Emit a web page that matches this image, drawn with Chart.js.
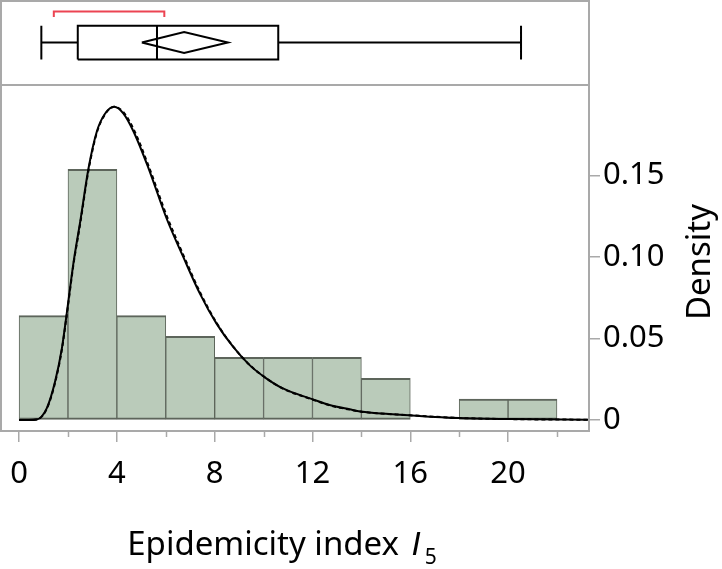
<!DOCTYPE html>
<html>
<head>
<meta charset="utf-8">
<script src="https://cdn.jsdelivr.net/npm/chart.js@4/dist/chart.umd.min.js"></script>
<style>
  html, body { margin: 0; padding: 0; background: #fff; }
</style>
</head>
<body>
<canvas id="chart" width="722" height="569"></canvas>
<script>
'use strict';

/* ── Data ── */
// histogram: bins of width 2, density values (blank bin 16-18)
const binStarts  = [0, 2, 4, 6, 8, 10, 12, 14, 16, 18, 20];
const binDensity = [0.0641, 0.1538, 0.0641, 0.0513, 0.0385, 0.0385, 0.0385, 0.0256, null, 0.0128, 0.0128];

// fitted density curves
const fitX      = [0, 0.4, 0.72, 1.13, 1.47, 1.75, 1.95, 2.23, 2.5, 2.84, 3.18, 3.52, 3.89, 4.27, 4.68, 5.28, 6.05, 6.71, 7.39, 8.07, 8.75, 9.43, 10.11, 10.79, 12.02, 12.7, 13.52, 14.06, 15.96, 18.0, 20.1, 23.3];
const fitSolid  = [0, 0, 0.0003, 0.0072, 0.0235, 0.044, 0.0655, 0.097, 0.1217, 0.1544, 0.177, 0.188, 0.1922, 0.188, 0.177, 0.155, 0.123, 0.1002, 0.0777, 0.0593, 0.045, 0.0337, 0.0256, 0.0194, 0.0127, 0.0092, 0.0066, 0.0051, 0.003, 0.0012, 0.0006, 0.0002];
const fitDashed = [0, 0, 0.0003, 0.0068, 0.0228, 0.0432, 0.0645, 0.096, 0.1205, 0.1532, 0.1762, 0.1876, 0.1921, 0.1888, 0.1785, 0.1565, 0.1248, 0.1015, 0.0787, 0.0598, 0.0452, 0.0338, 0.0256, 0.0193, 0.0125, 0.009, 0.0064, 0.005, 0.003, 0.0013, 0.0006, 0.0002];

// outlier box plot: whisker low, Q1, median, Q3, whisker high
const boxFive     = [0.91, 2.40, 5.64, 10.60, 20.53];
// mean diamond: lower CI, mean, upper CI
const meanDiamond = [5.02, 6.75, 8.54];
// shortest half bracket
const shortestHalf = [1.42, 5.94];

const xMajorTicks = [0, 4, 8, 12, 16, 20];
const xMinorTicks = [2, 6, 10, 14, 18, 22];
const yTicks      = [0, 0.05, 0.10, 0.15];

/* ── Layout constants (y-scale units for the box panel) ── */
const Y_MIN = -0.0067, Y_MAX = 0.257, PANEL_SPLIT = 0.2055;
const BOX_C = 0.2315, BOX_H = 0.0103, DIA_H = 0.0064;
const BR_TOP = 0.2505, BR_BOT = 0.2472;
const FONT = '"Noto Sans", "Open Sans", sans-serif';
const FRAME = '#a9a9a9';

// join polylines into one dataset, broken by null points
function polylines(lines) {
  const out = [];
  lines.forEach((ln, i) => {
    if (i) out.push({ x: ln[0][0], y: null });
    ln.forEach(p => out.push({ x: p[0], y: p[1] }));
  });
  return out;
}

const [wLo, q1, med, q3, wHi] = boxFive;
const [mLo, mean, mHi] = meanDiamond;
const boxLines = polylines([
  [[wLo, BOX_C], [q1, BOX_C]],
  [[q3, BOX_C], [wHi, BOX_C]],
  [[wLo, BOX_C - BOX_H], [wLo, BOX_C + BOX_H]],
  [[wHi, BOX_C - BOX_H], [wHi, BOX_C + BOX_H]],
  [[q1, BOX_C - BOX_H], [q1, BOX_C + BOX_H], [q3, BOX_C + BOX_H], [q3, BOX_C - BOX_H], [q1, BOX_C - BOX_H]],
  [[med, BOX_C - BOX_H], [med, BOX_C + BOX_H]],
  [[mLo, BOX_C], [mean, BOX_C + DIA_H], [mHi, BOX_C], [mean, BOX_C - DIA_H], [mLo, BOX_C]]
]);
const bracket = polylines([
  [[shortestHalf[0], BR_BOT], [shortestHalf[0], BR_TOP], [shortestHalf[1], BR_TOP], [shortestHalf[1], BR_BOT]]
]);

/* ── Frame, minor ticks, titles ── */
const decor = {
  id: 'decor',
  afterDatasetsDraw(chart) {
    const { ctx, chartArea: a, scales: { x, y } } = chart;
    ctx.save();
    ctx.strokeStyle = FRAME;
    ctx.lineWidth = 2;
    ctx.strokeRect(a.left, a.top, a.right - a.left, a.bottom - a.top);
    const sy = Math.round(y.getPixelForValue(PANEL_SPLIT));
    ctx.beginPath();
    ctx.moveTo(a.left, sy); ctx.lineTo(a.right, sy);
    ctx.stroke();
    // minor ticks
    ctx.lineWidth = 1.5;
    xMinorTicks.forEach(v => {
      const px = Math.round(x.getPixelForValue(v)) + 0.5;
      ctx.beginPath();
      ctx.moveTo(px, a.bottom); ctx.lineTo(px, a.bottom + 6);
      ctx.stroke();
    });
    ctx.restore();
  },
  afterDraw(chart) {
    const { ctx } = chart;
    ctx.save();
    ctx.fillStyle = '#000';
    ctx.textBaseline = 'alphabetic';
    // y title, reading upward
    ctx.translate(710, 262);
    ctx.rotate(-Math.PI / 2);
    ctx.font = `33px ${FONT}`;
    ctx.textAlign = 'center';
    ctx.fillText('Density', 0, 0);
    ctx.restore();

    // x title with italic I and subscript 5
    ctx.save();
    ctx.fillStyle = '#000';
    ctx.textAlign = 'left';
    const ITAL = 'italic 33px "Liberation Sans", "DejaVu Sans", sans-serif';
    const main = 'Epidemicity index ';
    ctx.font = `33px ${FONT}`;
    const w1 = ctx.measureText(main).width + 4;
    ctx.font = ITAL;
    const w2 = ctx.measureText('I').width + 4;
    ctx.font = `21px ${FONT}`;
    const w3 = ctx.measureText('5').width;
    let x0 = 282 - (w1 + w2 + w3) / 2;
    const base = 555;
    ctx.font = `33px ${FONT}`;
    ctx.fillText(main, x0, base);
    x0 += w1;
    ctx.font = ITAL;
    ctx.fillText('I', x0, base);
    x0 += w2;
    ctx.font = `21px ${FONT}`;
    ctx.fillText('5', x0, base + 9);
    ctx.restore();
  }
};

new Chart(document.getElementById('chart'), {
  data: {
    datasets: [
      {
        type: 'bar',
        data: binStarts.map((s, i) => ({ x: s + 1, y: binDensity[i] })),
        backgroundColor: '#bacbba',
        borderColor: '#5d655b',
        borderWidth: { top: 2, bottom: 2, left: 1, right: 1 },
        borderSkipped: false,
        barPercentage: 1,
        categoryPercentage: 1,
        order: 3
      },
      {
        type: 'line',
        data: fitX.map((v, i) => ({ x: v, y: fitDashed[i] })),
        borderColor: '#000',
        borderWidth: 2,
        borderDash: [4, 3],
        pointRadius: 0,
        cubicInterpolationMode: 'monotone',
        order: 2
      },
      {
        type: 'line',
        data: fitX.map((v, i) => ({ x: v, y: fitSolid[i] })),
        borderColor: '#000',
        borderWidth: 2,
        pointRadius: 0,
        cubicInterpolationMode: 'monotone',
        order: 1
      },
      {
        type: 'line',
        data: boxLines,
        borderColor: '#000',
        borderWidth: 2,
        pointRadius: 0,
        spanGaps: false,
        order: 0
      },
      {
        type: 'line',
        data: bracket,
        borderColor: '#ec4452',
        borderWidth: 2,
        pointRadius: 0,
        order: 0
      }
    ]
  },
  options: {
    responsive: false,
    animation: false,
    layout: { padding: { left: 1, top: 1, right: 0, bottom: 0 } },
    plugins: { legend: { display: false }, tooltip: { enabled: false } },
    scales: {
      x: {
        type: 'linear',
        min: -0.74,
        max: 23.31,
        offset: false,
        afterBuildTicks: s => { s.ticks = xMajorTicks.map(v => ({ value: v })); },
        afterFit: s => { s.height = 138; s.paddingLeft = 0; s.paddingRight = 0; },
        grid: { drawOnChartArea: false, offset: false, tickLength: 11, color: FRAME, lineWidth: 1.5 },
        border: { display: false },
        ticks: { color: '#000', padding: 14, font: { family: FONT, size: 31 }, maxRotation: 0 }
      },
      y: {
        type: 'linear',
        position: 'right',
        min: Y_MIN,
        max: Y_MAX,
        afterBuildTicks: s => { s.ticks = yTicks.map(v => ({ value: v })); },
        afterFit: s => { s.width = 133; s.paddingTop = 0; s.paddingBottom = 0; },
        grid: { drawOnChartArea: false, tickLength: 11, color: FRAME, lineWidth: 1.5 },
        border: { display: false },
        ticks: {
          color: '#000', padding: 3,
          font: { family: FONT, size: 31 },
          callback: v => (v === 0 ? '0' : v.toFixed(2))
        }
      }
    }
  },
  plugins: [decor]
});
</script>
</body>
</html>
